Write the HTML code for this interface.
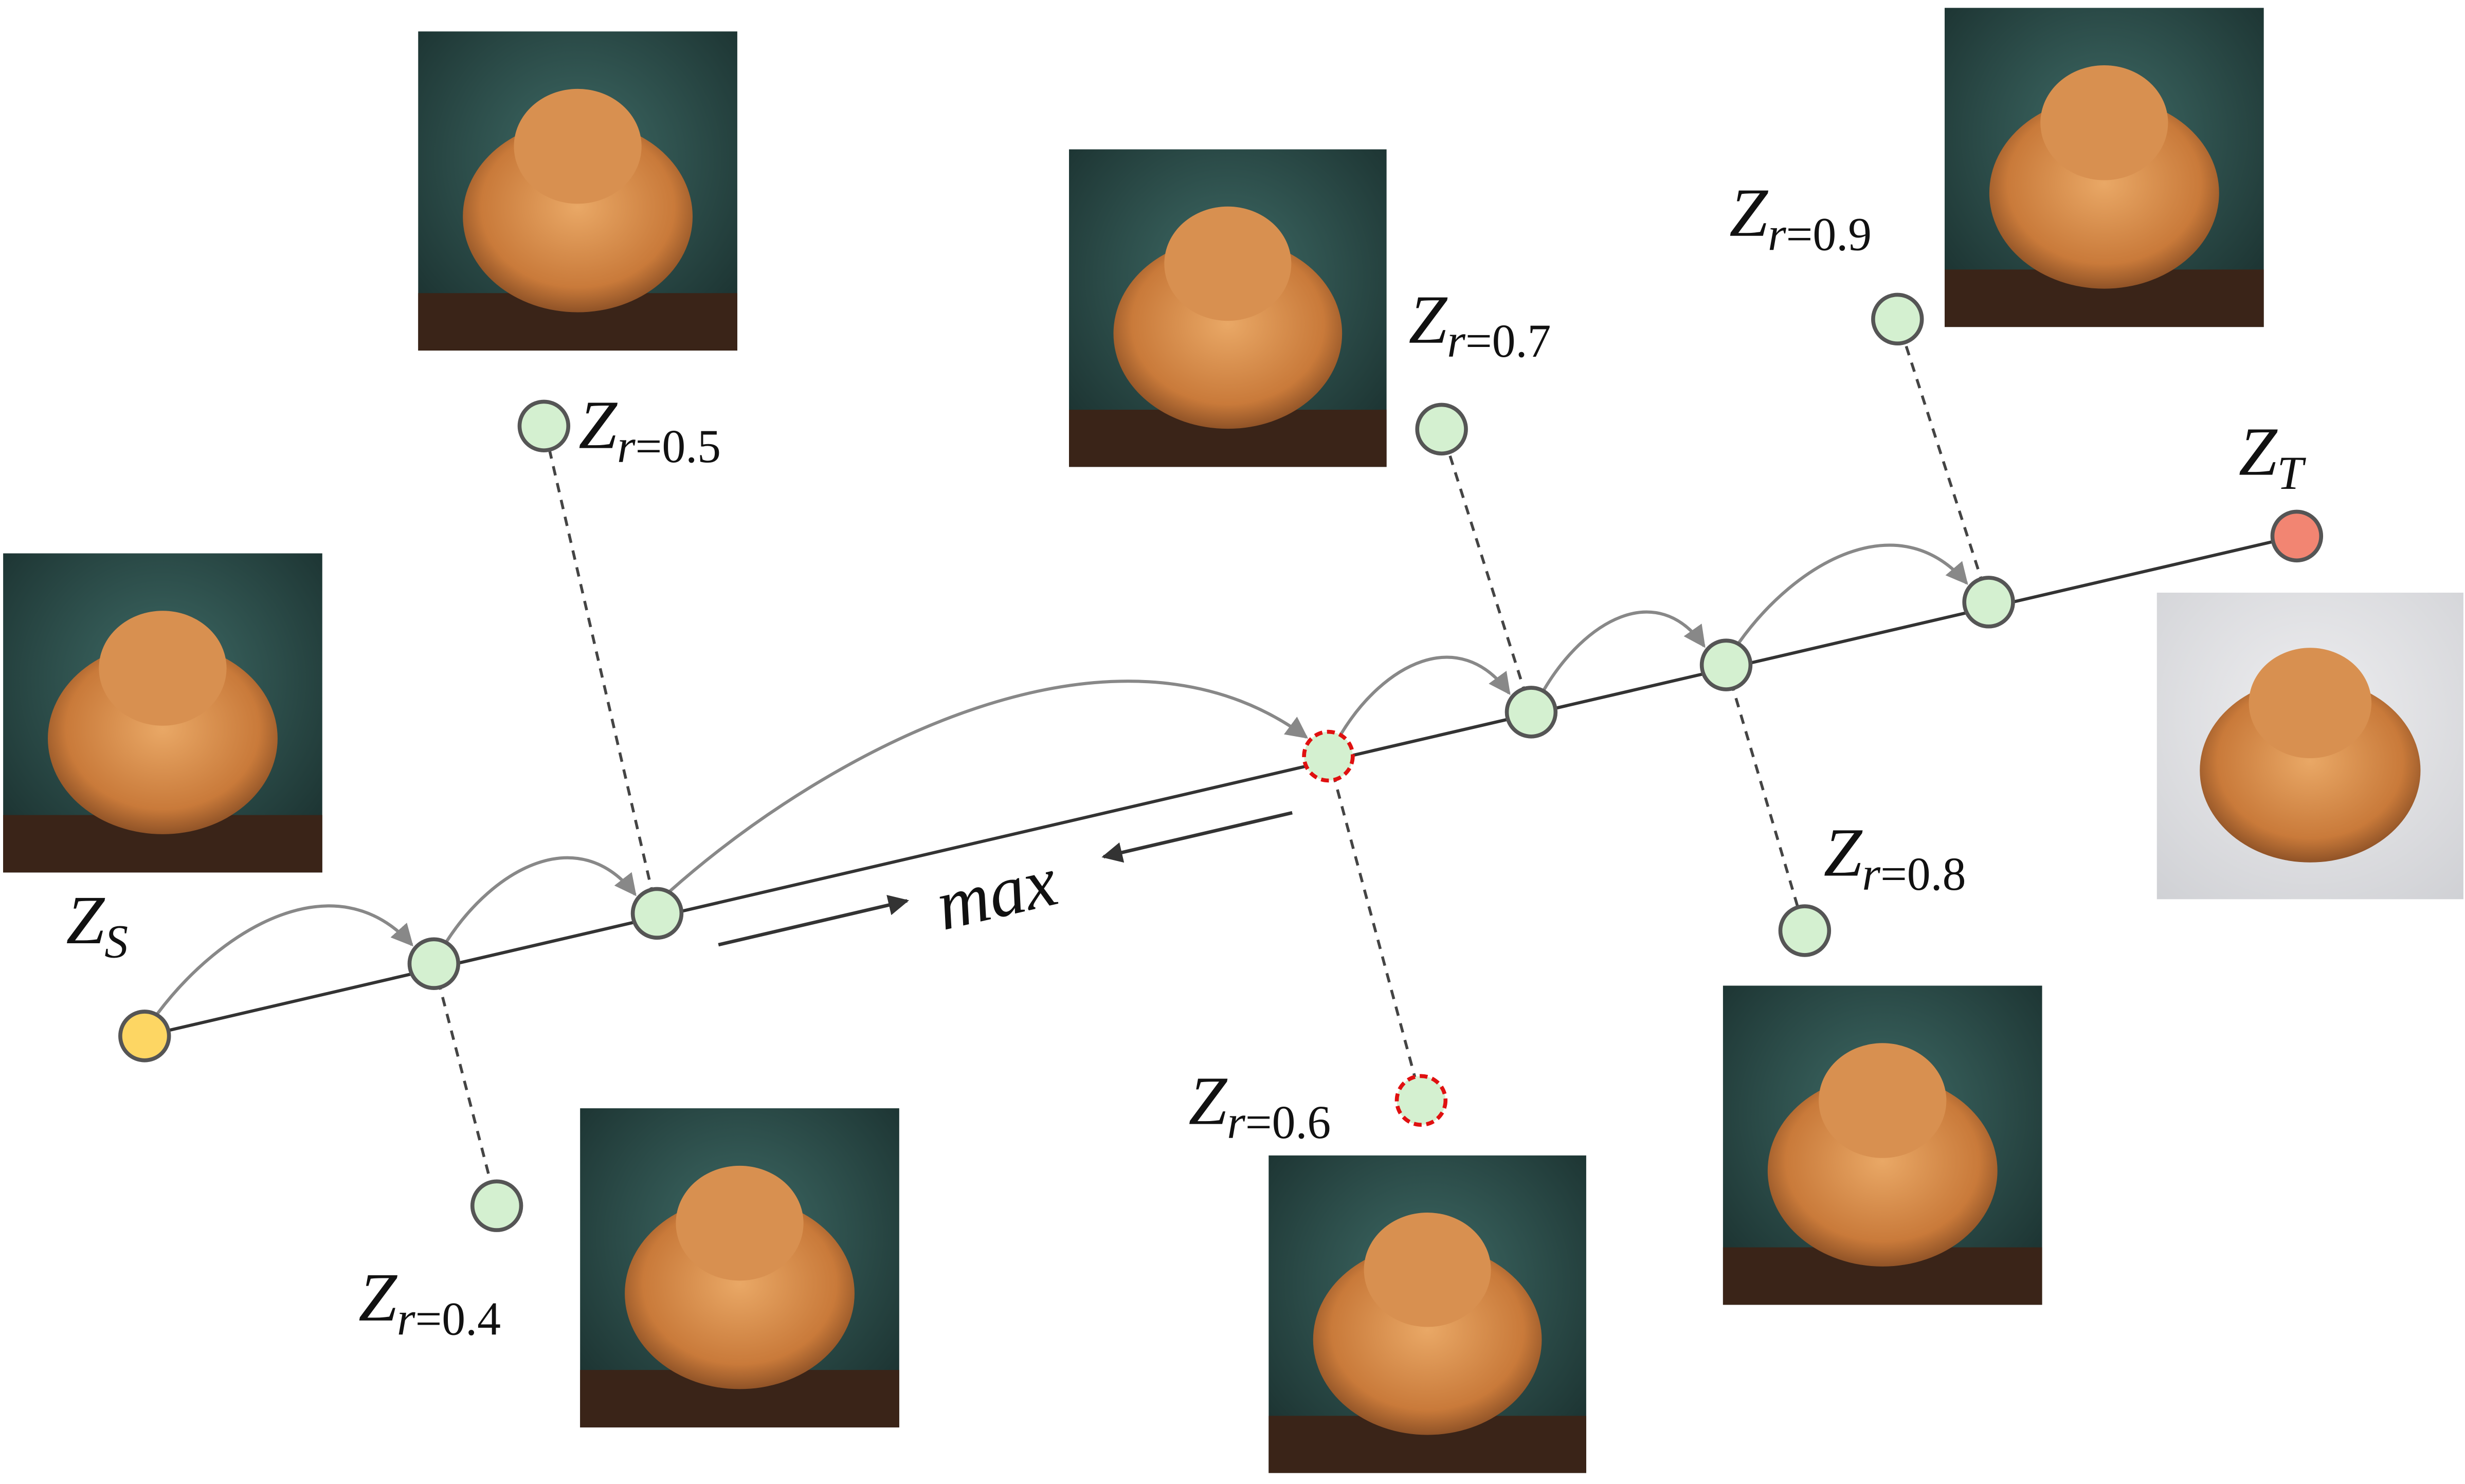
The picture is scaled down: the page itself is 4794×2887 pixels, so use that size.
<!DOCTYPE html>
<html><head><meta charset="utf-8">
<style>
html,body{margin:0;padding:0;background:#fff;}
svg{display:block;}
text{font-family:"Liberation Serif",serif;font-style:italic;fill:#111;}
.up{font-style:normal;}
</style></head>
<body>
<svg id="fig" width="4794" height="2887" viewBox="0 0 1568 944" preserveAspectRatio="none" xmlns="http://www.w3.org/2000/svg">
<defs>
<marker id="ah" viewBox="0 0 10 10" refX="9" refY="5" markerWidth="7" markerHeight="7" orient="auto-start-reverse"><path d="M0,0 L10,5 L0,10 z" fill="#888"/></marker>
<marker id="ah2" viewBox="0 0 10 10" refX="9" refY="5" markerWidth="6" markerHeight="6" orient="auto"><path d="M0,0 L10,5 L0,10 z" fill="#333"/></marker>
<radialGradient id="bgDark" cx="0.5" cy="0.4" r="0.8"><stop offset="0" stop-color="#3f6b66"/><stop offset="1" stop-color="#152827"/></radialGradient>
<radialGradient id="bgLight" cx="0.5" cy="0.4" r="0.8"><stop offset="0" stop-color="#eeeef0"/><stop offset="1" stop-color="#cfd0d4"/></radialGradient>
<radialGradient id="fur" cx="0.5" cy="0.45" r="0.6"><stop offset="0" stop-color="#e9a866"/><stop offset="0.7" stop-color="#c97a3a"/><stop offset="1" stop-color="#7a4420"/></radialGradient>
</defs>
<g id="images"></g>
<g id="lines"></g>
<g id="nodes"></g>
<g id="labels"></g>
</svg>
<script>
// r values of intermediate latents
const ratios = [0.4, 0.5, 0.6, 0.7, 0.8, 0.9];
// on-line node positions (Z_S, r-steps..., Z_T)
const lineNodesX = [92, 276, 418, 845, 974, 1098, 1265, 1461];
const lineNodesY = [659, 613, 581, 481, 453, 423, 383, 341];
// off-line projected latents per ratio
const offX = [316, 346, 904, 917, 1148, 1207];
const offY = [767, 271, 700, 273, 592, 203];
const anchorIdx = [1, 2, 3, 4, 5, 6];
const highlighted = [false, false, true, false, false, false];
const labelX = [228, 368, 756, 896, 1160, 1100];
const labelY = [840, 285, 715, 218, 557, 150];
// image tiles
const imgX = [2, 266, 680, 1237, 1372, 369, 807, 1096];
const imgY = [352, 20, 95, 5, 377, 705, 735, 627];
const imgW = [203, 203, 202, 203, 195, 203, 202, 203];
const imgLight = [0, 0, 0, 0, 1, 0, 0, 0];

const NS = "http://www.w3.org/2000/svg";
function mk(tag, attrs, parent) {
  const e = document.createElementNS(NS, tag);
  for (const k in attrs) e.setAttribute(k, attrs[k]);
  parent.appendChild(e);
  return e;
}
const gI = document.getElementById('images'), gL = document.getElementById('lines'),
      gN = document.getElementById('nodes'), gT = document.getElementById('labels');

imgX.forEach((x, i) => {
  const g = mk('g', {}, gI);
  
  
  const w = imgW[i], y = imgY[i];
  mk('rect', {x: x, y: y, width: w, height: w, fill: imgLight[i] ? 'url(#bgLight)' : 'url(#bgDark)'}, g);
  if (!imgLight[i]) mk('rect', {x: x, y: y + w * 0.82, width: w, height: w * 0.18, fill: '#3a2418'}, g);
  mk('ellipse', {cx: x + w * 0.5, cy: y + w * 0.58, rx: w * 0.36, ry: w * 0.3, fill: 'url(#fur)'}, g);
  mk('ellipse', {cx: x + w * 0.5, cy: y + w * 0.36, rx: w * 0.2, ry: w * 0.18, fill: '#d89050'}, g);
});

const ml = mk('line', {x1: lineNodesX[0], y1: lineNodesY[0], x2: lineNodesX[7], y2: lineNodesY[7], stroke: '#333', 'stroke-width': 2}, gL);



ratios.forEach((r, i) => {
  const a = anchorIdx[i];
  const d = mk('line', {x1: lineNodesX[a], y1: lineNodesY[a], x2: offX[i], y2: offY[i], stroke: '#444', 'stroke-width': 1.8, 'stroke-dasharray': '6,5'}, gL);
  
  
});

for (let i = 0; i < 6; i++) {
  const x1 = lineNodesX[i] + 8, y1 = lineNodesY[i] - 14, x2 = lineNodesX[i + 1] - 14, y2 = lineNodesY[i + 1] - 12;
  const dx = x2 - x1;
  const h = Math.min(90, 25 + dx * 0.18);
  const c = mk('path', {d: `M${x1},${y1} C${x1 + dx * 0.25},${y1 - h} ${x2 - dx * 0.3},${y2 - h} ${x2},${y2}`, fill: 'none', stroke: '#888', 'stroke-width': 2, 'marker-end': 'url(#ah)'}, gL);
  
  
}

const a1 = mk('line', {x1: 457, y1: 601, x2: 577, y2: 573, stroke: '#333', 'stroke-width': 2.2, 'marker-end': 'url(#ah2)'}, gL);


const a2 = mk('line', {x1: 822, y1: 517, x2: 702, y2: 545, stroke: '#333', 'stroke-width': 2.2, 'marker-end': 'url(#ah2)'}, gL);


const mt = mk('text', {x: 595, y: 582, 'font-size': 46, transform: 'rotate(-13 640 565)'}, gT);
mt.textContent = 'max';



function node(x, y, fill, dashed, name) {
  const c = mk('circle', {cx: x, cy: y, r: 15.5, fill: fill, stroke: dashed ? '#e01010' : '#555', 'stroke-width': 2.5}, gN);
  if (dashed) c.setAttribute('stroke-dasharray', '5,3');
  
  
}
lineNodesX.forEach((x, i) => {
  let fill = '#d4f0d0', name = 'path-node';
  if (i === 0) { fill = '#fdd663'; name = 'source-node'; }
  if (i === 7) { fill = '#f28572'; name = 'target-node'; }
  node(x, lineNodesY[i], fill, i === 3, name);
});
ratios.forEach((r, i) => node(offX[i], offY[i], '#d4f0d0', highlighted[i], 'latent-node-r' + r));

function zlabel(x, y, sub, rest, name) {
  const t = mk('text', {x: x, y: y, 'font-size': 44}, gT);
  t.textContent = 'Z';
  const s = mk('tspan', {dy: 9, 'font-size': 30}, t);
  s.textContent = sub;
  if (rest) {
    const u = mk('tspan', {'font-size': 30, class: 'up'}, t);
    u.textContent = rest;
  }
  
  
}
ratios.forEach((r, i) => zlabel(labelX[i], labelY[i], 'r', '=' + r, 'label-r' + r));
zlabel(42, 600, 'S', '', 'label-source');
zlabel(1424, 302, 'T', '', 'label-target');
</script>
</body></html>
